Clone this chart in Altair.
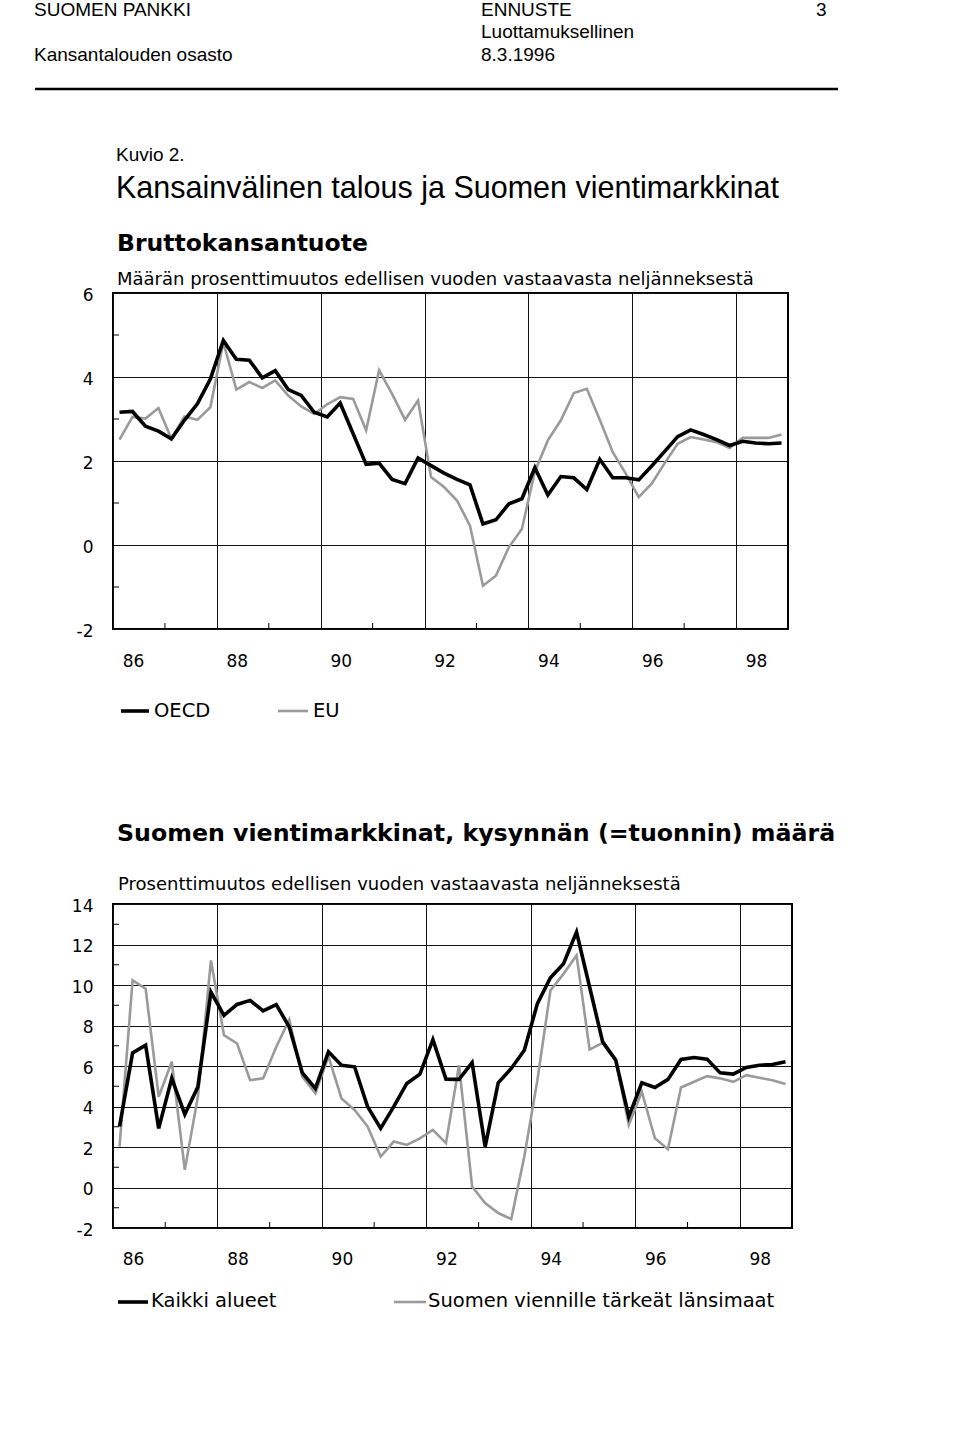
import altair as alt
import pandas as pd

# ---------------- data ----------------
quarters = [f"{y}Q{q}" for y in range(1986, 1999) for q in range(1, 5)]

oecd = [3.16, 3.18, 2.83, 2.71, 2.53, 2.97, 3.36, 3.95, 4.87, 4.42,
        4.40, 3.98, 4.15, 3.70, 3.56, 3.16, 3.05, 3.38, 2.65, 1.92,
        1.95, 1.56, 1.46, 2.07, 1.89, 1.71, 1.56, 1.43, 0.50, 0.60,
        0.98, 1.10, 1.84, 1.19, 1.63, 1.60, 1.32, 2.04, 1.60, 1.60,
        1.55, 1.88, 2.23, 2.58, 2.74, 2.63, 2.51, 2.37, 2.47, 2.43,
        2.41, 2.43]
eu = [2.51, 3.05, 3.01, 3.26, 2.53, 3.06, 2.98, 3.28, 4.83, 3.70,
      3.88, 3.74, 3.92, 3.56, 3.30, 3.12, 3.35, 3.52, 3.48, 2.73,
      4.16, 3.60, 2.98, 3.44, 1.62, 1.38, 1.06, 0.46, -0.97, -0.73,
      -0.05, 0.38, 1.75, 2.49, 2.97, 3.62, 3.72, 2.98, 2.21, 1.70,
      1.14, 1.46, 1.95, 2.41, 2.57, 2.51, 2.45, 2.31, 2.55, 2.55,
      2.55, 2.63]

kaikki = [3.01, 6.65, 7.03, 2.92, 5.39, 3.61, 4.97, 9.65, 8.50, 9.04,
          9.24, 8.72, 9.03, 7.93, 5.66, 4.89, 6.70, 6.04, 5.96, 3.99,
          2.92, 3.99, 5.14, 5.60, 7.30, 5.35, 5.34, 6.17, 2.02, 5.17,
          5.88, 6.78, 9.08, 10.36, 11.05, 12.61, 9.90, 7.19, 6.29, 3.50,
          5.17, 4.94, 5.34, 6.32, 6.42, 6.34, 5.66, 5.60, 5.93, 6.04,
          6.07, 6.21]
lansimaat = [2.02, 10.23, 9.82, 4.48, 6.21, 0.87, 4.48, 11.21, 7.52, 7.11,
             5.30, 5.39, 6.94, 8.29, 5.47, 4.65, 6.48, 4.40, 3.83, 3.01,
             1.53, 2.27, 2.10, 2.43, 2.84, 2.19, 6.04, 0.05, -0.77, -1.26,
             -1.56, 1.53, 5.30, 9.73, 10.55, 11.46, 6.81, 7.14, 6.29, 3.09,
             4.73, 2.43, 1.89, 4.94, 5.22, 5.50, 5.39, 5.22, 5.55, 5.42,
             5.30, 5.11]

year_ticks = [1986, 1988, 1990, 1992, 1994, 1996, 1998]
minor_years = [1987, 1989, 1991, 1993, 1995, 1997]
y1_ticks = [-2, 0, 2, 4, 6]
y1_minor = [-1, 1, 3, 5]
y2_ticks = [-2, 0, 2, 4, 6, 8, 10, 12, 14]
y2_minor = [-1, 1, 3, 5, 7, 9, 11, 13]

# ---------------- helpers ----------------
def qpos(q):
    return int(q[:4]) + (int(q[5]) - 0.5) / 4.0

df1 = pd.DataFrame({"q": quarters, "OECD": oecd, "EU": eu})
df1["t"] = df1["q"].map(qpos)
df2 = pd.DataFrame({"q": quarters, "Kaikki": kaikki, "Lansi": lansimaat})
df2["t"] = df2["q"].map(qpos)

SANS = "DejaVu Sans"
ARIAL = "Liberation Sans"
GRAY = "#9a9a9a"


def txt(text, x, y, size, font=SANS, weight="normal"):
    return alt.Chart(alt.Data(values=[{"t": text}])).mark_text(
        align="left", baseline="alphabetic", font=font, fontSize=size,
        fontWeight=weight, color="black"
    ).encode(x=alt.value(x), y=alt.value(y), text="t:N")


def seg(x1, x2, y, color, width):
    return alt.Chart(alt.Data(values=[{"k": 1}])).mark_rule(
        color=color, strokeWidth=width
    ).encode(x=alt.value(x1), x2=alt.value(x2), y=alt.value(y))


def make_panel(df, s_black, s_gray, ydom, yticks, yminor, width, height, label_pad):
    xscale = alt.Scale(domain=[1986, 1999], nice=False, zero=False)
    yscale = alt.Scale(domain=ydom, nice=False, zero=False)
    xaxis = alt.Axis(values=year_ticks, grid=True, gridColor="#111", gridWidth=1,
                     ticks=False, tickSize=0, domain=False,
                     labelExpr="substring(toString(datum.value), 2, 4)",
                     labelOffset=20, labelPadding=label_pad, labelBaseline="alphabetic",
                     labelFont=SANS, labelFontSize=17, labelColor="black",
                     labelFlush=False, labelOverlap=False, title=None)
    yaxis = alt.Axis(values=yticks, grid=True, gridColor="#111", gridWidth=1,
                     ticks=False, tickSize=0, domain=False,
                     labelExpr="'' + datum.value",
                     labelPadding=20, labelFont=SANS, labelFontSize=17,
                     labelColor="black", labelBaseline="middle", labelOffset=2,
                     labelFlush=False, labelOverlap=False, title=None)
    gray = alt.Chart(df).mark_line(color=GRAY, strokeWidth=2.6).encode(
        x=alt.X("t:Q", scale=xscale, axis=xaxis),
        y=alt.Y(f"{s_gray}:Q", scale=yscale, axis=yaxis),
    )
    black = alt.Chart(df).mark_line(color="black", strokeWidth=3.6).encode(
        x=alt.X("t:Q", scale=xscale),
        y=alt.Y(f"{s_black}:Q", scale=yscale),
    )
    mx = alt.Chart(pd.DataFrame({"yr": minor_years})).mark_rule(
        color="black", strokeWidth=1
    ).encode(x=alt.X("yr:Q", scale=xscale), y=alt.value(height), y2=alt.value(height - 6))
    my = alt.Chart(pd.DataFrame({"v": yminor})).mark_rule(
        color="black", strokeWidth=1
    ).encode(y=alt.Y("v:Q", scale=yscale), x=alt.value(0), x2=alt.value(6))
    return [gray, black, mx, my]


# ---------------- chart 1 (origin at page 113,292) ----------------
W1, H1 = 675, 336
layers1 = make_panel(df1, "OECD", "EU", [-2, 6], y1_ticks, y1_minor, W1, H1, 37)
layers1 += [
    txt("SUOMEN PANKKI", -79, -277, 19, ARIAL),
    txt("Kansantalouden osasto", -79, -232, 19, ARIAL),
    txt("ENNUSTE", 368, -277, 19, ARIAL),
    txt("Luottamuksellinen", 368, -255, 19, ARIAL),
    txt("8.3.1996", 368, -232, 19, ARIAL),
    txt("3", 703, -277, 19, ARIAL),
    seg(-78, 725, -204, "black", 2.5),
    txt("Kuvio 2.", 3, -132, 19, ARIAL),
    txt("Kansainvälinen talous ja Suomen vientimarkkinat", 3, -95, 30.5, ARIAL),
    txt("Bruttokansantuote", 4, -42.5, 23.5, SANS, "bold"),
    txt("Määrän prosenttimuutos edellisen vuoden vastaavasta neljänneksestä", 4, -8.5, 18, SANS),
    seg(8, 36, 418, "black", 3.6),
    txt("OECD", 41, 424, 19.5, SANS),
    seg(165, 195, 418, GRAY, 2.6),
    txt("EU", 200, 424, 19.5, SANS),
]
chart1 = alt.layer(*layers1).properties(width=W1, height=H1)

# ---------------- chart 2 (origin at page 113,903) ----------------
W2, H2 = 679, 324
layers2 = make_panel(df2, "Kaikki", "Lansi", [-2, 14], y2_ticks, y2_minor, W2, H2, 36)
layers2 += [
    txt("Suomen vientimarkkinat, kysynnän (=tuonnin) määrä", 4, -63, 23.7, SANS, "bold"),
    txt("Prosenttimuutos edellisen vuoden vastaavasta neljänneksestä", 5, -14, 18, SANS),
    seg(5, 35, 398, "black", 3.6),
    txt("Kaikki alueet", 38, 403, 19.5, SANS),
    seg(281, 313, 398, GRAY, 2.6),
    txt("Suomen viennille tärkeät länsimaat", 315, 403, 19.5, SANS),
]
chart2 = alt.layer(*layers2).properties(width=W2, height=H2)

chart = alt.vconcat(chart1, chart2, spacing=275, bounds="flush").properties(
    padding={"left": 32, "top": 0, "right": 5, "bottom": 5},
    background="white",
).configure_view(stroke="black", strokeWidth=2)

chart.save("out.html", embed_options={"renderer": "svg", "actions": False})
